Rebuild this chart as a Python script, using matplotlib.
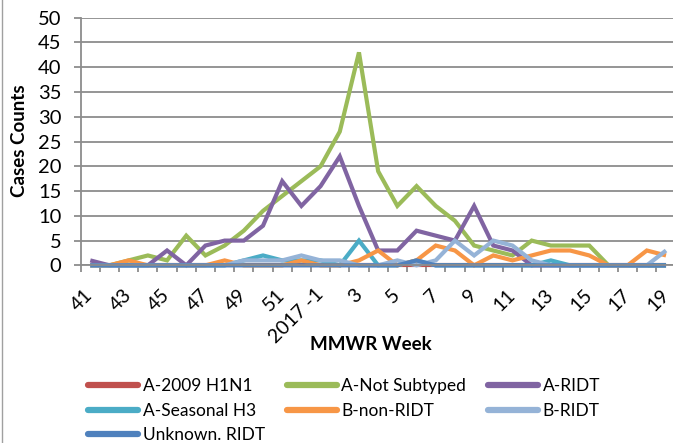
import numpy as np
import matplotlib
matplotlib.use("Agg")
import matplotlib.pyplot as plt
from matplotlib.lines import Line2D

plt.rcParams['font.family'] = ['Lato', 'DejaVu Sans']

weeks = [str(w) for w in range(41, 53)] + ["2017 -1"] + [str(w) for w in range(2, 20)]

a_h1n1 = [0] * 31
a_not_subtyped = [0, 0, 1, 2, 1, 6, 2, 4, 7, 11, 14, 17, 20, 27, 43, 19,
                  12, 16, 12, 9, 4, 3, 2, 5, 4, 4, 4, 0, 0, 0, 0]
a_ridt = [1, 0, 0, 0, 3, 0, 4, 5, 5, 8, 17, 12, 16, 22, 12, 3,
          3, 7, 6, 5, 12, 4, 3, 0, 0, 0, 0, 0, 0, 0, 0]
a_seasonal_h3 = [0, 0, 0, 0, 0, 0, 0, 0, 1, 2, 1, 1, 1, 0, 5, 0,
                 0, 1, 0, 0, 0, 0, 0, 0, 1, 0, 0, 0, 0, 0, 0]
b_non_ridt = [0, 0, 1, 0, 0, 0, 0, 1, 0, 0, 0, 1, 0, 0, 1, 3,
              0, 1, 4, 3, 0, 2, 1, 2, 3, 3, 2, 0, 0, 3, 2]
b_ridt = [0, 0, 0, 0, 0, 0, 0, 0, 1, 1, 1, 2, 1, 1, 0, 0,
          1, 0, 1, 5, 2, 5, 4, 1, 0, 0, 0, 0, 0, 0, 3]
unknown_ridt = [0, 0, 0, 0, 0, 0, 0, 0, 0, 0, 0, 0, 0, 0, 0, 0,
                0, 1, 0, 0, 0, 0, 0, 0, 0, 0, 0, 0, 0, 0, 0]

series = [
    ("A-2009 H1N1", a_h1n1, "#C0504D"),
    ("A-Not Subtyped", a_not_subtyped, "#9BBB59"),
    ("A-RIDT", a_ridt, "#8064A2"),
    ("A-Seasonal H3", a_seasonal_h3, "#4BACC6"),
    ("B-non-RIDT", b_non_ridt, "#F79646"),
    ("B-RIDT", b_ridt, "#95B3D7"),
    ("Unknown. RIDT", unknown_ridt, "#4F81BD"),
]

grid_col = "#8c8c8c"

fig = plt.figure(figsize=(6.73, 4.43), dpi=100)
ax = fig.add_axes([0.1199, 0.401, 0.884, 0.559])

x = np.arange(len(weeks))
for name, vals, col in series:
    ax.plot(x, vals, color=col, lw=3.0, label=name, clip_on=False,
            solid_joinstyle="miter", solid_capstyle="butt")

ax.set_xlim(-0.5, len(weeks) - 0.5)
ax.set_ylim(0, 50)
ax.set_yticks(np.arange(0, 51, 5))
ax.yaxis.grid(True, color=grid_col, lw=1.3)
ax.set_axisbelow(True)

ax.set_xticks(x[::2])
ax.set_xticklabels(weeks[::2], rotation=45, ha="right", va="center",
                   rotation_mode="anchor", fontsize=14)
ax.tick_params(axis="x", length=0, pad=19)
ax.set_xticks(np.arange(-0.5, len(weeks), 1), minor=True)
ax.tick_params(axis="x", which="minor", length=5, width=1.3, color=grid_col)
ax.tick_params(axis="y", length=5, width=1.3, color=grid_col, pad=9,
               labelsize=14.5)

for s in ["top", "right"]:
    ax.spines[s].set_visible(False)
for s in ["left", "bottom"]:
    ax.spines[s].set_color(grid_col)
    ax.spines[s].set_linewidth(1.3)

fig.text(20 / 673, 1 - 141 / 443, "Cases Counts", rotation=90, ha="center",
         va="center", fontsize=13.5, fontweight="bold")
fig.text(371 / 673, 1 - 345 / 443, "MMWR Week", ha="center", va="center",
         fontsize=13.5, fontweight="bold")

# matplotlib fills legend columns first, so reorder to read row by row
order = [0, 3, 6, 1, 4, 2, 5]
handles = [Line2D([], [], color=series[i][2], lw=4.5, solid_capstyle="round") for i in order]
labels = [series[i][0] for i in order]
fig.legend(handles, labels, ncol=3, loc="upper left",
           bbox_to_anchor=(88 / 673, 1 - 378 / 443), frameon=False,
           fontsize=12.5, handlelength=2.9, handletextpad=0.25,
           columnspacing=1.25, labelspacing=0.5, borderpad=0, borderaxespad=0)

fig.add_artist(Line2D([1.5 / 673, 1.5 / 673], [0, 1], color="#a0a0a0", lw=1))

fig.savefig("out.png", dpi=100)
